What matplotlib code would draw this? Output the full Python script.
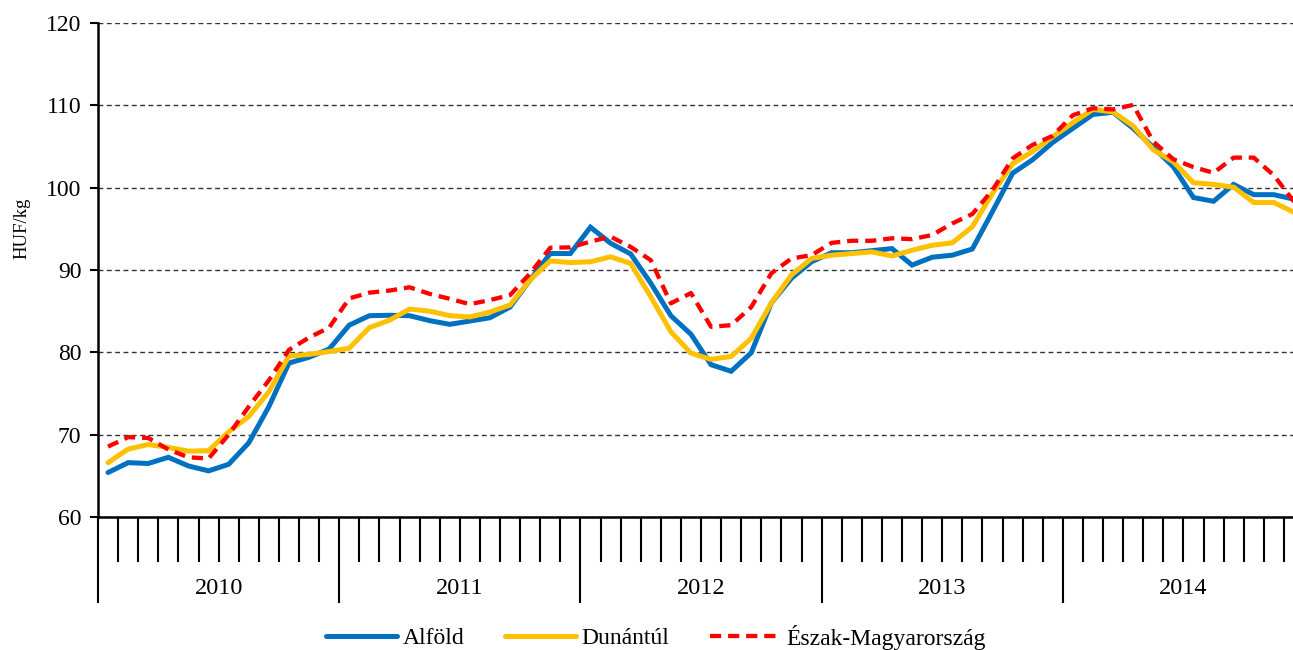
import matplotlib
matplotlib.use("Agg")
import matplotlib.pyplot as plt
import numpy as np

years = ["2010", "2011", "2012", "2013", "2014"]
months_per_year = 12

alfold = [65.4, 66.6, 66.5, 67.25, 66.2, 65.6, 66.4, 69.0, 73.4, 78.7, 79.4, 80.4,
          83.3, 84.45, 84.5, 84.45, 83.85, 83.4, 83.8, 84.2, 85.5, 88.8, 92.0, 92.0,
          95.2, 93.25, 91.95, 88.4, 84.45, 82.2, 78.5, 77.7, 79.95, 86.0, 89.0, 91.0,
          92.1, 92.1, 92.35, 92.6, 90.6, 91.55, 91.8, 92.55, 97.1, 101.75, 103.4, 105.5,
          107.2, 108.9, 109.15, 107.2, 104.9, 102.55, 98.8, 98.35, 100.4, 99.15, 99.15, 98.6]

dunantul = [66.6, 68.25, 68.8, 68.45, 68.0, 68.05, 70.35, 72.2, 75.2, 79.55, 79.75, 80.1,
            80.5, 83.0, 83.9, 85.25, 85.0, 84.45, 84.3, 84.9, 85.75, 88.8, 91.1, 90.9,
            91.0, 91.6, 90.8, 86.75, 82.5, 79.9, 79.15, 79.5, 81.7, 86.0, 89.4, 91.4,
            91.8, 92.0, 92.2, 91.7, 92.4, 93.0, 93.3, 95.25, 99.3, 102.9, 104.4, 106.2,
            107.9, 109.5, 109.2, 107.5, 104.6, 103.15, 100.6, 100.4, 100.05, 98.2, 98.2, 97.0]

eszak = [68.55, 69.7, 69.6, 68.2, 67.25, 67.1, 70.0, 73.4, 76.6, 80.3, 81.8, 83.0,
         86.55, 87.25, 87.5, 87.9, 87.1, 86.5, 85.85, 86.35, 86.95, 89.6, 92.7, 92.75,
         93.45, 94.05, 92.8, 91.2, 85.95, 87.2, 83.1, 83.3, 85.5, 89.6, 91.4, 91.8,
         93.3, 93.55, 93.55, 93.85, 93.75, 94.25, 95.65, 96.8, 99.7, 103.55, 105.2, 106.3,
         108.8, 109.65, 109.5, 110.05, 105.6, 103.45, 102.5, 101.8, 103.65, 103.65, 101.5, 98.3]

series_names = ["Alföld", "Dunántúl", "Észak-Magyarország"]
y_ticks = [60, 70, 80, 90, 100, 110, 120]
y_label = "HUF/kg"

plt.rcParams['font.family'] = ['Liberation Serif', 'DejaVu Serif']

W, H = 1293, 650
fig = plt.figure(figsize=(W / 100, H / 100), dpi=100)
ax = fig.add_axes([98 / W, (H - 517) / H, (1304 - 98) / W, (517 - 23) / H])

n = len(alfold)
x = np.arange(n)

ax.plot(x, alfold, color="#0070C0", lw=3.6, label=series_names[0],
        solid_capstyle="round", solid_joinstyle="miter", zorder=3)
ax.plot(x, dunantul, color="#FFC000", lw=3.6, label=series_names[1],
        solid_capstyle="round", solid_joinstyle="miter", zorder=4)
ax.plot(x, eszak, color="#FF0000", lw=3.1, label=series_names[2],
        linestyle=(0, (2.6, 1.6)), dash_capstyle="butt", zorder=5)

ax.set_xlim(-0.5, n - 0.5)
ax.set_ylim(60, 120)
ax.set_yticks(y_ticks)
ax.tick_params(axis="y", direction="out", length=6, width=1.5, labelsize=17, pad=6)

boundaries = np.arange(0, n + 1) - 0.5
major = boundaries[::months_per_year]
minor = [b for i, b in enumerate(boundaries) if i % months_per_year != 0]
ax.set_xticks(major)
ax.set_xticks(minor, minor=True)
ax.set_xticklabels([])
ax.tick_params(axis="x", which="major", direction="out", length=62, width=1.5)
ax.tick_params(axis="x", which="minor", direction="out", length=32.5, width=1.5)

for i, yr in enumerate(years):
    cx = i * months_per_year + (months_per_year - 1) / 2
    ax.text(cx, -0.144, yr, transform=ax.get_xaxis_transform(),
            ha="center", va="center", fontsize=17.5)

ax.yaxis.grid(True, linestyle=(0, (3.5, 2.5)), color="#333333", lw=1.0)
ax.set_axisbelow(True)
for s in ["top", "right"]:
    ax.spines[s].set_visible(False)
for s in ["left", "bottom"]:
    ax.spines[s].set_linewidth(1.8)
    ax.spines[s].set_color("black")

fig.text(22 / W, 1 - 228 / H, y_label, rotation=90, ha="center", va="center", fontsize=13.5)

leg = fig.legend(loc="center", bbox_to_anchor=(656 / W, 1 - 637 / H), ncol=3,
                 frameon=False, fontsize=17, handlelength=3.0, handletextpad=0.25,
                 columnspacing=1.7, borderaxespad=0)

fig.savefig("out.png", dpi=100)
